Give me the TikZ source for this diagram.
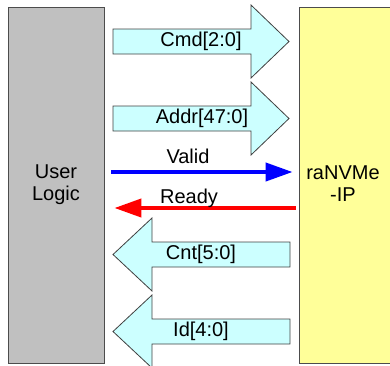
\documentclass[tikz,border=0pt]{standalone}
\usepackage{fontspec}
\setmainfont{Liberation Sans}
\usetikzlibrary{arrows.meta}
\definecolor{logicgray}{RGB}{192,192,192}
\definecolor{ipyellow}{RGB}{255,255,153}
\definecolor{buscyan}{RGB}{204,255,255}
\begin{document}
\begin{tikzpicture}[x=1pt,y=-1pt,font=\fontsize{20}{22}\selectfont,
  blockbox/.style={draw=black!70,line width=0.8pt,inner sep=0pt},
  busarrow/.style={fill=buscyan,draw=black!75,line width=0.8pt},
  sigline/.style={line width=4pt,-{Triangle[length=27pt,width=18pt]}}]
  \useasboundingbox (0,0) rectangle (390,365);

  %%%%%%%%%%%Draw the two blocks%%%%%%%%%%%
  \node[blockbox,fill=logicgray,minimum width=96pt,minimum height=356pt,align=center] (ulogic) at (56,185) {User\\Logic};
  \node[blockbox,fill=ipyellow,minimum width=97pt,minimum height=356pt] (ip) at (347.5,185) {};
  \node[align=center] (iptext) at (343,184) {raNVMe\\-IP};

  %%%%%%%%%%%Draw the input busses%%%%%%%%%
  \filldraw[busarrow] (113,29) -- (251,29) -- (251,5) -- (289,41.5) -- (251,78) -- (251,54) -- (113,54) -- cycle;
  \node (cmd) at (201,41.5) {Cmd[2:0]};
  \filldraw[busarrow] (113,106) -- (251,106) -- (251,82) -- (289,118.5) -- (251,155) -- (251,131) -- (113,131) -- cycle;
  \node (addr) at (202,118.5) {Addr[47:0]};

  %%%%%%%%%%%Draw the handshake%%%%%%%%%%%%
  \draw[sigline,blue,shorten <=7pt,shorten >=6pt] (ulogic.east |- 0,172) -- (ip.west |- 0,172);
  \node[anchor=base] (valid) at (188,163) {Valid};
  \draw[sigline,red,shorten <=3pt,shorten >=10pt] (ip.west |- 0,208) -- (ulogic.east |- 0,208);
  \node[anchor=base] (ready) at (189,203) {Ready};

  %%%%%%%%%%%Draw the output busses%%%%%%%%
  \filldraw[busarrow] (290,242) -- (152,242) -- (152,218) -- (113,254.5) -- (152,291) -- (152,267) -- (290,267) -- cycle;
  \node (cnt) at (201,254.5) {Cnt[5:0]};
  \filldraw[busarrow] (290,319) -- (152,319) -- (152,295) -- (113,331.5) -- (152,368) -- (152,344) -- (290,344) -- cycle;
  \node (id) at (201,331.5) {Id[4:0]};
\end{tikzpicture}
\end{document}
